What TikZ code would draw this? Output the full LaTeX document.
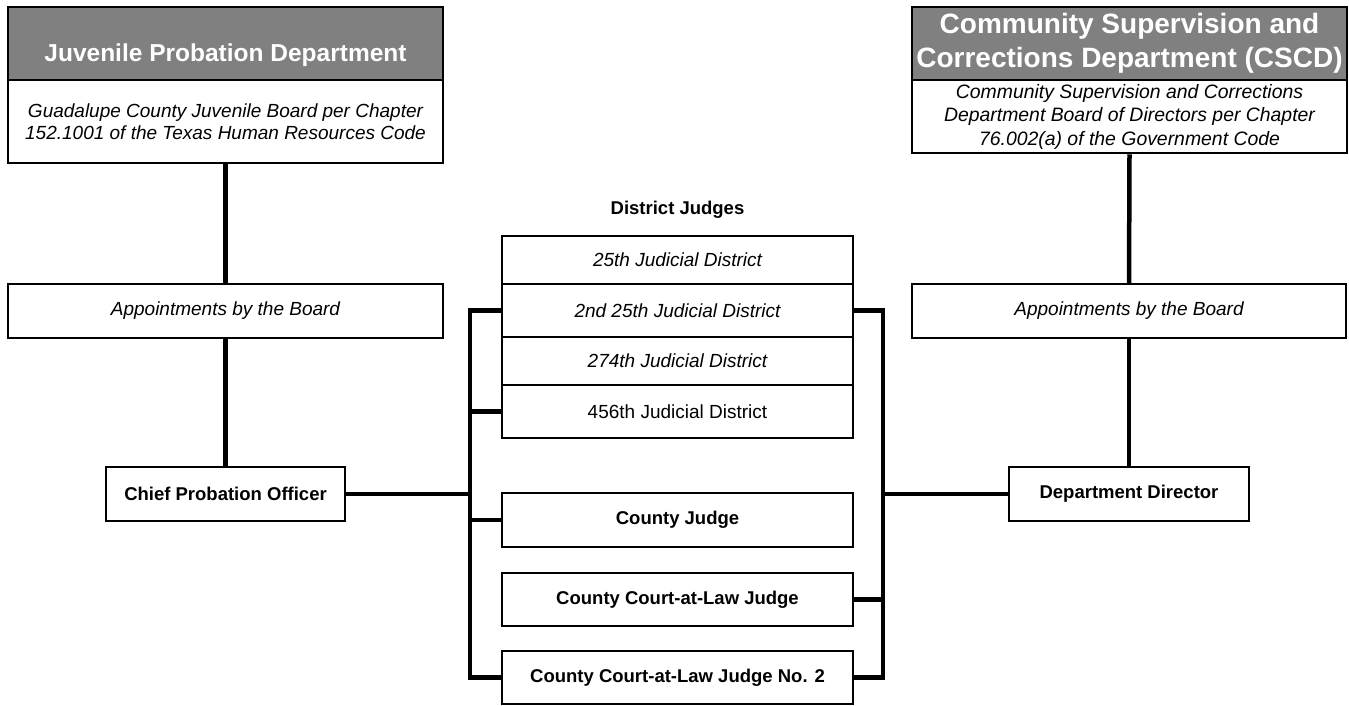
\documentclass[tikz,border=0pt]{standalone}
\usepackage{fontspec}
\setmainfont{Liberation Sans}
\definecolor{hdrgray}{RGB}{128,128,128}
\begin{document}
\begin{tikzpicture}[x=1pt,y=-1pt,
  box/.style={draw=black, line width=2.5pt, fill=white, rectangle, inner sep=0pt, align=center},
  hdr/.style={box, fill=hdrgray, text=white, font=\fontsize{24.5}{29}\selectfont\bfseries},
  itx/.style={font=\fontsize{19}{22.5}\selectfont\itshape},
  bdx/.style={font=\fontsize{18.5}{21}\selectfont\bfseries},
  rgx/.style={font=\fontsize{19}{22.5}\selectfont},
  conn/.style={line width=4.5pt, line cap=butt}]
\useasboundingbox (0,0) rectangle (1349,705);

% left column
\node[hdr, minimum width=435, minimum height=73, text height=35pt, text depth=0pt] (jpd) at (225.5,43.5) {Juvenile Probation Department};
\node[box, itx, minimum width=435, minimum height=83] (jpdb) at (225.5,121.5) {Guadalupe County Juvenile Board per Chapter\\152.1001 of the Texas Human Resources Code};
\node[box, itx, minimum width=435, minimum height=54] (appL) at (225.5,311) {Appointments by the Board};
\node[box, bdx, minimum width=239, minimum height=54] (cpo) at (225.5,494) {Chief Probation Officer};

% right column
\node[hdr, font=\fontsize{28}{34}\selectfont\bfseries, minimum width=435, minimum height=73] (cscd) at (1129.5,43.5) {Community Supervision and\\Corrections Department (CSCD)};
\node[box, font=\fontsize{19.4}{23.5}\selectfont\itshape, minimum width=435, minimum height=73] (cscdb) at (1129.5,116.5) {Community Supervision and Corrections\\Department Board of Directors per Chapter\\76.002(a) of the Government Code};
\node[box, itx, minimum width=434, minimum height=54] (appR) at (1129,311) {Appointments by the Board};
\node[box, bdx, minimum width=240, minimum height=54] (dd) at (1129,494) {Department Director};

% centre column
\node[bdx] (djl) at (677.5,210) {District Judges};
\node[box, itx, minimum width=351, minimum height=48] (jd1) at (677.5,260) {25th Judicial District};
\node[box, itx, minimum width=351, minimum height=53] (jd2) at (677.5,310.5) {2nd 25th Judicial District};
\node[box, itx, minimum width=351, minimum height=48] (jd3) at (677.5,361) {274th Judicial District};
\node[box, rgx, minimum width=351, minimum height=53] (jd4) at (677.5,411.5) {456th Judicial District};
\node[box, bdx, minimum width=351, minimum height=54] (cj) at (677.5,520) {County Judge};
\node[box, bdx, minimum width=351, minimum height=53] (ccl) at (677.5,599.5) {County Court-at-Law Judge};
\node[box, bdx, minimum width=351, minimum height=53] (ccl2) at (677.5,677.5) {County Court-at-Law Judge No. 2};

% bus coordinates
\coordinate (LT) at (470,310.5);
\coordinate (LB) at (470,677.5);
\coordinate (RT) at (883,310.5);
\coordinate (RB) at (883,677.5);

% connectors
\draw[conn] (jpdb.south) -- (appL.north);
\draw[conn] (appL.south) -- (cpo.north);
\draw[conn] (cscdb.south) -- (appR.north);
\draw[conn] (appR.south) -- (dd.north);

\draw[conn] (jd2.west) -- (LT) -- (LB) -- (ccl2.west);
\draw[conn] (jd4.west) -- (jd4.west -| LT);
\draw[conn] (cj.west) -- (cj.west -| LT);
\draw[conn] (cpo.east) -- (cpo.east -| LT);

\draw[conn] (jd2.east) -- (RT) -- (RB) -- (ccl2.east);
\draw[conn] (ccl.east) -- (ccl.east -| RT);
\draw[conn] (dd.west) -- (dd.west -| RT);
\end{tikzpicture}
\end{document}
